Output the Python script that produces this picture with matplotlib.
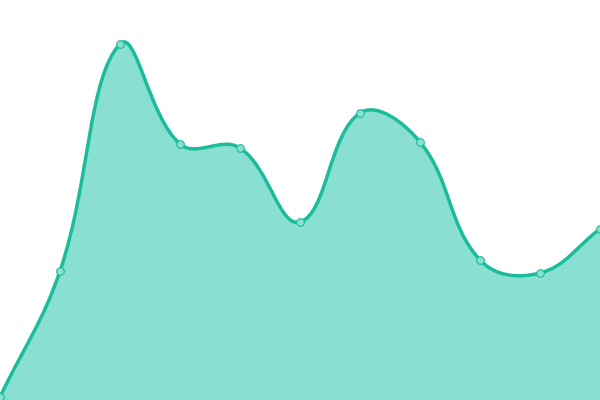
import numpy as np
import matplotlib
matplotlib.use("Agg")
import matplotlib.pyplot as plt
from matplotlib.path import Path
from matplotlib.patches import PathPatch

x_vals = [0, 1, 2, 3, 4, 5, 6, 7, 8, 9, 10]
y_vals = [3, 129, 356, 256, 252, 178, 287, 258, 140, 127, 171]

line_color = "#1abc9c"
fill_color = "#8ae0d0"
tension = 0.4

W, H = 600, 400
y_max = 400


def to_px(xs, ys):
    px = np.array(xs, dtype=float) / (len(xs) - 1) * W
    py = H - np.array(ys, dtype=float) / y_max * H
    return px, py


def spline_controls(px, py):
    pts = np.column_stack([px, py])
    n = len(pts)
    cps = []
    for i in range(n):
        prev = pts[max(i - 1, 0)]
        cur = pts[i]
        nxt = pts[min(i + 1, n - 1)]
        d01 = np.hypot(*(cur - prev))
        d12 = np.hypot(*(nxt - cur))
        tot = d01 + d12
        s01 = d01 / tot if tot else 0
        s12 = d12 / tot if tot else 0
        cp1 = cur - tension * s01 * (nxt - prev)
        cp2 = cur + tension * s12 * (nxt - prev)
        cp1 = np.clip(cp1, [0, 0], [W, H])
        cp2 = np.clip(cp2, [0, 0], [W, H])
        cps.append((cp1, cp2))
    return pts, cps


px, py = to_px(x_vals, y_vals)
pts, cps = spline_controls(px, py)

verts = [pts[0]]
codes = [Path.MOVETO]
for i in range(len(pts) - 1):
    verts += [cps[i][1], cps[i + 1][0], pts[i + 1]]
    codes += [Path.CURVE4] * 3

fill_verts = verts + [(W, H), (0, H), pts[0]]
fill_codes = codes + [Path.LINETO, Path.LINETO, Path.CLOSEPOLY]

fig = plt.figure(figsize=(6, 4), dpi=100)
ax = fig.add_axes([0, 0, 1, 1])
ax.set_xlim(0, W)
ax.set_ylim(H, 0)
ax.axis("off")

ax.add_patch(PathPatch(Path(fill_verts, fill_codes), facecolor=fill_color,
                       edgecolor="none", zorder=1))
ax.add_patch(PathPatch(Path(verts, codes), facecolor="none",
                       edgecolor=line_color, lw=2.5, zorder=2,
                       capstyle="round", joinstyle="round"))
ax.plot(px, py, "o", ms=5.5, mfc=fill_color, mec=line_color, mew=0.8, zorder=3,
        clip_on=False)

fig.savefig("out.png", dpi=100)
